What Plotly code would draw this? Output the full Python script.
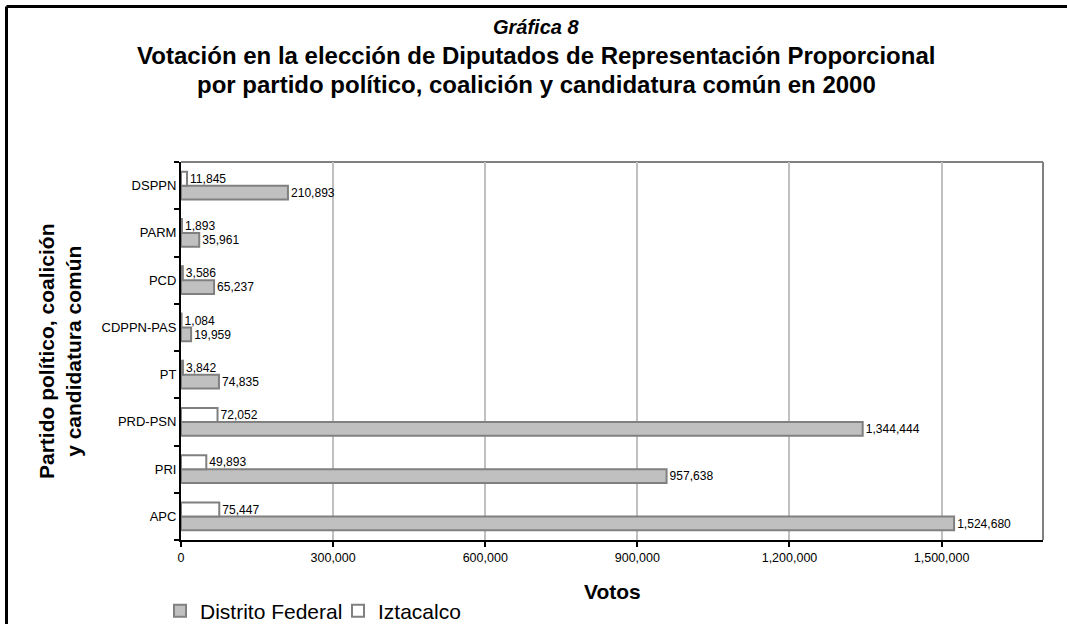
import plotly.graph_objects as go

categories = ["APC", "PRI", "PRD-PSN", "PT", "CDPPN-PAS", "PCD", "PARM", "DSPPN"]
distrito_federal = [1524680, 957638, 1344444, 74835, 19959, 65237, 35961, 210893]
iztacalco = [75447, 49893, 72052, 3842, 1084, 3586, 1893, 11845]
x_ticks = [0, 300000, 600000, 900000, 1200000, 1500000]

FONT = "Liberation Sans, Arial, sans-serif"

fig = go.Figure()
fig.add_trace(go.Bar(
    y=categories, x=distrito_federal, orientation="h", name="Distrito Federal",
    marker=dict(color="#c0c0c0", line=dict(color="#808080", width=2)),
    text=[f"{v:,}" for v in distrito_federal], textposition="outside",
    textfont=dict(size=13, color="black", family=FONT), cliponaxis=False,
))
fig.add_trace(go.Bar(
    y=categories, x=iztacalco, orientation="h", name="Iztacalco",
    marker=dict(color="white", line=dict(color="#808080", width=2)),
    text=[f"{v:,}" for v in iztacalco], textposition="outside",
    textfont=dict(size=13, color="black", family=FONT), cliponaxis=False,
))

L, R, T, B = 181, 24, 162, 84
W, H = 1067, 624
pw, ph = W - L - R, H - T - B

def px(x):
    return (x - L) / pw

def py(y):
    return (H - B - y) / ph

fig.update_layout(
    width=W, height=H,
    margin=dict(l=L, r=R, t=T, b=B, autoexpand=False),
    paper_bgcolor="white", plot_bgcolor="white",
    font=dict(family=FONT, color="black", size=12),
    barmode="group", bargap=0.41, bargroupgap=0,
    showlegend=True,
    legend=dict(orientation="h", x=px(160), xanchor="left", y=py(611), yanchor="middle",
                font=dict(size=21, family=FONT), traceorder="normal",
                bgcolor="rgba(0,0,0,0)", itemwidth=30, tracegroupgap=0,
                entrywidth=133, entrywidthmode="pixels"),
    xaxis=dict(range=[0, 1700000], tickvals=x_ticks, tickformat=",",
               showgrid=True, gridcolor="#c0c0c0", gridwidth=2,
               showline=True, linecolor="black", linewidth=2,
               ticks="outside", ticklen=5, tickwidth=2, tickcolor="black",
               tickfont=dict(size=12.5), zeroline=False),
    yaxis=dict(categoryorder="array", categoryarray=categories,
               showline=True, linecolor="black", linewidth=2,
               ticks="outside", tickson="boundaries", ticklen=5, tickwidth=2,
               tickcolor="black", tickfont=dict(size=13), showgrid=False),
    shapes=[
        dict(type="line", xref="paper", yref="paper", x0=0, x1=1, y0=1, y1=1,
             line=dict(color="#808080", width=2), layer="below"),
        dict(type="line", xref="paper", yref="paper", x0=1, x1=1, y0=0, y1=1,
             line=dict(color="#808080", width=2), layer="below"),
        dict(type="line", xref="paper", yref="paper", x0=px(6.5), x1=px(1080),
             y0=py(6.5), y1=py(6.5), line=dict(color="black", width=3)),
        dict(type="line", xref="paper", yref="paper", x0=px(6.5), x1=px(6.5),
             y0=py(6.5), y1=py(640), line=dict(color="black", width=3)),
    ],
    annotations=[
        dict(text="<b><i>Gráfica 8</i></b>", xref="paper", yref="paper",
             x=px(536), y=py(27), xanchor="center", yanchor="middle",
             showarrow=False, font=dict(size=20)),
        dict(text="<b>Votación en la elección de Diputados de Representación Proporcional</b>",
             xref="paper", yref="paper", x=px(536), y=py(56), xanchor="center",
             yanchor="middle", showarrow=False, font=dict(size=24)),
        dict(text="<b>por partido político, coalición y candidatura común en 2000</b>",
             xref="paper", yref="paper", x=px(536), y=py(84), xanchor="center",
             yanchor="middle", showarrow=False, font=dict(size=24)),
        dict(text="<b>Partido político, coalición<br>y candidatura común</b>",
             xref="paper", yref="paper", x=px(60), y=0.5, xanchor="center",
             yanchor="middle", textangle=-90, showarrow=False, font=dict(size=21)),
        dict(text="<b>Votos</b>", xref="paper", yref="paper", x=0.5, y=py(591),
             xanchor="center", yanchor="middle", showarrow=False, font=dict(size=21)),
    ],
)

fig.write_html("out.html", config={"displayModeBar": False},
               post_script="document.body.style.margin='0';document.body.style.overflow='hidden';")
